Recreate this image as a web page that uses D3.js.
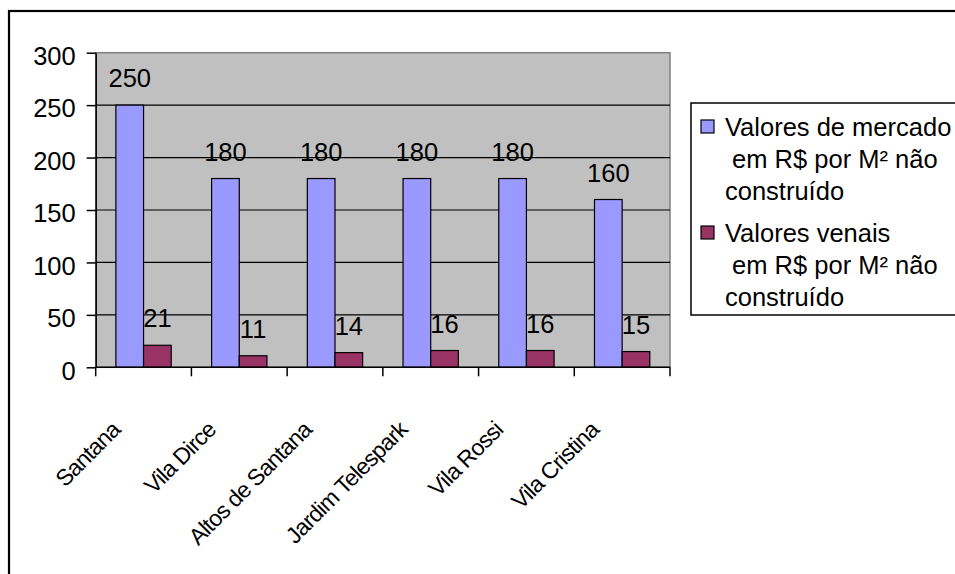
<!DOCTYPE html>
<html>
<head>
<meta charset="utf-8">
<script src="https://cdn.jsdelivr.net/npm/d3@7"></script>
<style>
  html, body { margin: 0; padding: 0; background: #ffffff; overflow: hidden; }
  svg { display: block; overflow: hidden; }
  text { font-family: "Liberation Sans", Arial, sans-serif; fill: #000; }
</style>
</head>
<body>
<svg id="chart" width="955" height="574"></svg>
<script>
// Neighbourhoods and their land values (R$ per m², unbuilt)
const categories = ["Santana", "Vila Dirce", "Altos de Santana", "Jardim Telespark", "Vila Rossi", "Vila Cristina"];
const valoresMercado = [250, 180, 180, 180, 180, 160];
const valoresVenais = [21, 11, 14, 16, 16, 15];
const seriesKeys = ["mercado", "venais"];
const seriesColors = ["#9999FF", "#993366"];
const legendLines = [
  ["Valores de mercado", " em R$ por M² não", "construído"],
  ["Valores venais", " em R$ por M² não", "construído"]
];
const yTicks = [0, 50, 100, 150, 200, 250, 300];

const svg = d3.select("#chart");

// outer frame of the chart object (runs past the right and bottom edges)
svg.append("rect")
  .attr("x", 9).attr("y", 11)
  .attr("width", 1100).attr("height", 700)
  .attr("fill", "#fff").attr("stroke", "#000").attr("stroke-width", 2.2);

const plot = { left: 95.7, right: 670, top: 52.7, bottom: 367.3 };

const x0 = d3.scaleBand().domain(categories).range([plot.left, plot.right]).paddingInner(0).paddingOuter(0);
const x1 = d3.scaleBand().domain(seriesKeys).range([0, x0.bandwidth()]).paddingInner(0).paddingOuter(0.73);
const y = d3.scaleLinear().domain([0, 300]).range([plot.bottom, plot.top]);
const color = d3.scaleOrdinal().domain(seriesKeys).range(seriesColors);

// plot area background
svg.append("rect")
  .attr("x", plot.left).attr("y", plot.top)
  .attr("width", plot.right - plot.left).attr("height", plot.bottom - plot.top)
  .attr("fill", "#C0C0C0").attr("stroke", "#808080").attr("stroke-width", 1.5);

// horizontal gridlines
svg.append("g")
  .selectAll("line")
  .data(yTicks.filter(t => t > 0 && t < 300))
  .join("line")
  .attr("x1", plot.left).attr("x2", plot.right)
  .attr("y1", d => y(d)).attr("y2", d => y(d))
  .attr("stroke", "#000").attr("stroke-width", 1.2);

// bars
const rows = categories.map((c, i) => ({ cat: c, mercado: valoresMercado[i], venais: valoresVenais[i] }));
const groups = svg.append("g").selectAll("g")
  .data(rows)
  .join("g")
  .attr("transform", d => `translate(${x0(d.cat)},0)`);

groups.selectAll("rect")
  .data(d => seriesKeys.map(k => ({ key: k, value: d[k] })))
  .join("rect")
  .attr("x", d => x1(d.key))
  .attr("y", d => y(d.value))
  .attr("width", x1.bandwidth())
  .attr("height", d => y(0) - y(d.value))
  .attr("fill", d => color(d.key))
  .attr("stroke", "#000").attr("stroke-width", 1.2);

groups.selectAll("text")
  .data(d => seriesKeys.map(k => ({ key: k, value: d[k] })))
  .join("text")
  .attr("x", d => x1(d.key) + x1.bandwidth() / 2)
  .attr("y", d => y(d.value) - 18)
  .attr("text-anchor", "middle")
  .style("font-size", "25.5px")
  .text(d => d.value);

// y axis
const yAxis = svg.append("g")
  .attr("transform", `translate(${plot.left},0)`)
  .call(d3.axisLeft(y).tickValues(yTicks).tickSize(9).tickPadding(11).tickSizeOuter(0));
yAxis.select(".domain").attr("stroke", "#000").attr("stroke-width", 1.5);
yAxis.selectAll(".tick line").attr("stroke", "#000").attr("stroke-width", 1.5);
yAxis.selectAll(".tick text")
  .style("font-size", "25.5px")
  .style("font-family", "'Liberation Sans', Arial, sans-serif")
  .attr("fill", "#000")
  .attr("dy", "0.46em");

// x axis with ticks at category boundaries
const xAxis = svg.append("g");
xAxis.append("line")
  .attr("x1", plot.left).attr("x2", plot.right)
  .attr("y1", plot.bottom).attr("y2", plot.bottom)
  .attr("stroke", "#000").attr("stroke-width", 1.5);
const boundaries = categories.map(c => x0(c)).concat([x0(categories[categories.length - 1]) + x0.bandwidth()]);
xAxis.selectAll(".xt")
  .data(boundaries)
  .join("line")
  .attr("class", "xt")
  .attr("x1", d => d).attr("x2", d => d)
  .attr("y1", plot.bottom).attr("y2", plot.bottom + 9)
  .attr("stroke", "#000").attr("stroke-width", 1.5);

// rotated, tightly set category names
xAxis.selectAll(".xl")
  .data(categories)
  .join("text")
  .attr("class", "xl")
  .attr("text-anchor", "end")
  .style("font-size", "23px")
  .style("letter-spacing", "-0.8px")
  .attr("transform", d => `translate(${x0(d) + x0.bandwidth() / 2 - 22},${plot.bottom + 64}) rotate(-45)`)
  .text(d => d);

// legend
const legend = svg.append("g");
legend.append("rect")
  .attr("x", 691).attr("y", 103)
  .attr("width", 400).attr("height", 212)
  .attr("fill", "#fff").attr("stroke", "#000").attr("stroke-width", 1.5);

const lineH = 32;
const entryY = [136, 242];
legendLines.forEach((lines, i) => {
  legend.append("rect")
    .attr("x", 701).attr("y", entryY[i] - 16)
    .attr("width", 13).attr("height", 13)
    .attr("fill", seriesColors[i]).attr("stroke", "#000").attr("stroke-width", 1.2);
  const t = legend.append("text")
    .attr("x", 725).attr("y", entryY[i])
    .style("font-size", "25.5px")
    .style("white-space", "pre");
  lines.forEach((ln, j) => {
    t.append("tspan")
      .attr("x", 725)
      .attr("y", entryY[i] + j * lineH)
      .text(ln);
  });
});
</script>
</body>
</html>
